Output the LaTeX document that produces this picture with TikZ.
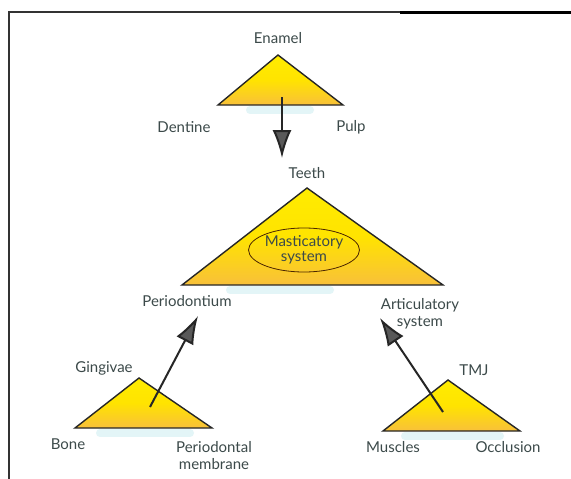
\documentclass[tikz,border=0pt]{standalone}
\usepackage{fontspec}
\setmainfont{Lato}
\usetikzlibrary{arrows.meta,shapes.geometric}
\definecolor{txt}{HTML}{3C4A4A}
\definecolor{tri}{HTML}{FFEC00}
\definecolor{trib}{HTML}{F8C03A}
\definecolor{glow}{HTML}{DDF3F5}
\tikzset{
  lbl/.style={text=txt,font=\fontsize{15}{17}\selectfont,inner sep=1pt,align=center},
  trishape/.style={draw=black!85,line width=1.4pt,line join=miter,top color=tri,bottom color=trib,middle color=tri!92!orange},
  arr/.style={draw=black!85,line width=2pt,-{Latex[length=28pt,width=19pt,fill=black!65]}},
  glowline/.style={draw=glow,line width=8pt,line cap=round,opacity=0.8}
}
\begin{document}
\begin{tikzpicture}[x=1pt,y=-1pt]
\useasboundingbox (0,0) rectangle (571,479);
\fill[white] (0,0) rectangle (571,479);
% frame
\draw[line width=2pt,black!80] (9,480) -- (9,12) -- (400,12);
\draw[line width=3pt,black] (400,12) -- (571,12);

% glow under bases
\draw[glowline] (250,110) -- (310,110);
\draw[glowline] (230,290) -- (330,290);
\draw[glowline] (100,433) -- (190,433);
\draw[glowline] (405,436) -- (500,436);

% top triangle
\coordinate (t1) at (278,55);
\coordinate (t2) at (218,105);
\coordinate (t3) at (343,105);
\path[trishape] (t1) -- (t2) -- (t3) -- cycle;
\node[lbl] (enamel) at (278,38) {Enamel};
\node[lbl] (dentine) at (184,127) {Dentine};
\node[lbl] (pulp) at (351,127) {Pulp};

% middle triangle
\coordinate (m1) at (307,188);
\coordinate (m2) at (182,285);
\coordinate (m3) at (443,285);
\path[trishape] (m1) -- (m2) -- (m3) -- cycle;
\node[lbl,draw=black!70!orange,line width=0.8pt,ellipse,inner sep=0pt,minimum width=103pt,minimum height=44pt] (mast) at (304,250) {Masticatory\\[-2pt]system};
\node[lbl] (teeth) at (307,173) {Teeth};
\node[lbl] (perio) at (187,301) {Periodontium};
\node[lbl] (artic) at (420,314) {Articulatory\\system};

% arrow top
\coordinate (a0) at (282,97);
\coordinate (a1) at (282,158);
\draw[arr] (a0) -- (a1);

% bottom left triangle
\coordinate (l1) at (139,378);
\coordinate (l2) at (75,428);
\coordinate (l3) at (212,428);
\path[trishape] (l1) -- (l2) -- (l3) -- cycle;
\node[lbl] (ging) at (104,368) {Gingivae};
\node[lbl] (bone) at (68,444) {Bone};
\node[lbl] (pdm) at (214,456) {Periodontal\\membrane};
\coordinate (b0) at (150,407);
\coordinate (b1) at (198,316);
\draw[arr] (b0) -- (b1);

% bottom right triangle
\coordinate (r1) at (448,380);
\coordinate (r2) at (383,431);
\coordinate (r3) at (520,431);
\path[trishape] (r1) -- (r2) -- (r3) -- cycle;
\node[lbl] (tmj) at (474,370) {TMJ};
\node[lbl] (musc) at (393,447) {Muscles};
\node[lbl] (occl) at (508,447) {Occlusion};
\coordinate (c0) at (443,412);
\coordinate (c1) at (380,318);
\draw[arr] (c0) -- (c1);
\end{tikzpicture}
\end{document}
